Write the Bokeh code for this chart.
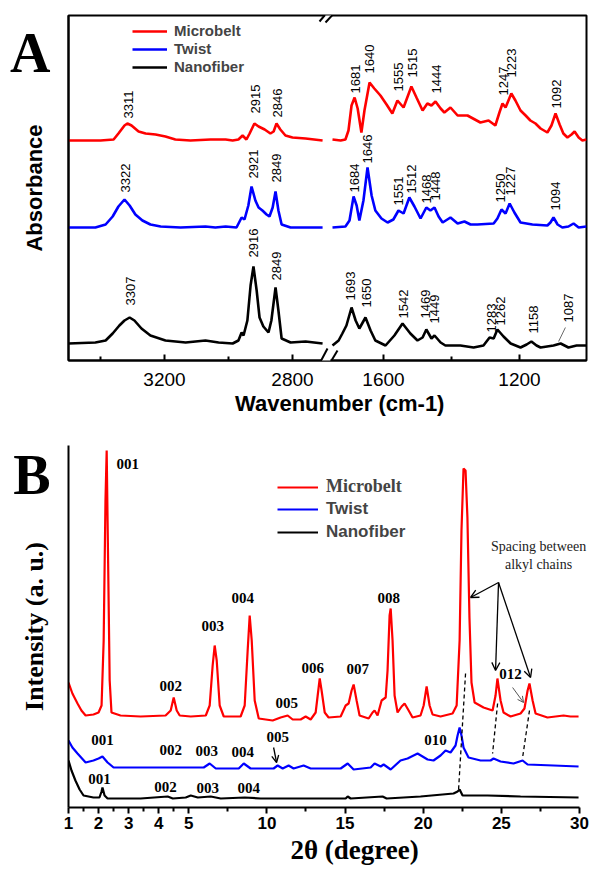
import math
from bokeh.plotting import figure
from bokeh.models import (FixedTicker, Legend, LegendItem, Label, Arrow, OpenHead,
                          BoxAnnotation)
from bokeh.layouts import column
from bokeh.embed import file_html
from bokeh.resources import INLINE
from bokeh.core.properties import value

# ---------------- Panel A: FTIR (wavenumber, absorbance offset) ----------------
red_hi_w = [3500, 3400, 3359, 3344, 3325, 3316, 3303, 3281, 3259, 3228, 3197, 3166, 3119, 3056, 3009,
            2987, 2969, 2956, 2944, 2934, 2919, 2906, 2887, 2869, 2859, 2850, 2838, 2822, 2800, 2759, 2706]
red_hi_a = [2.20, 2.20, 2.21, 2.27, 2.35, 2.37, 2.35, 2.29, 2.27, 2.26, 2.24, 2.21, 2.20, 2.21, 2.21,
            2.20, 2.21, 2.25, 2.21, 2.27, 2.37, 2.34, 2.31, 2.27, 2.29, 2.37, 2.31, 2.25, 2.23, 2.22, 2.20]
red_lo_w = [1750, 1726, 1712, 1703, 1694, 1685, 1676, 1665, 1656, 1641, 1627, 1609, 1591, 1574, 1559,
            1541, 1518, 1503, 1485, 1471, 1459, 1447, 1432, 1421, 1403, 1382, 1353, 1315, 1291, 1271,
            1259, 1250, 1241, 1224, 1212, 1197, 1182, 1168, 1153, 1138, 1118, 1106, 1094, 1082, 1071,
            1059, 1047, 1038, 1026, 1015, 1003]
red_lo_a = [2.21, 2.20, 2.21, 2.30, 2.55, 2.63, 2.52, 2.28, 2.50, 2.78, 2.72, 2.65, 2.56, 2.47, 2.60,
            2.53, 2.74, 2.63, 2.50, 2.57, 2.55, 2.59, 2.52, 2.48, 2.53, 2.45, 2.45, 2.38, 2.40, 2.35,
            2.48, 2.57, 2.53, 2.67, 2.60, 2.50, 2.45, 2.40, 2.37, 2.32, 2.28, 2.35, 2.47, 2.36, 2.27,
            2.23, 2.26, 2.29, 2.23, 2.20, 2.21]

blue_hi_w = [3500, 3416, 3384, 3362, 3344, 3325, 3309, 3291, 3269, 3244, 3212, 3150, 3072, 3041, 3009,
             2975, 2959, 2950, 2938, 2928, 2916, 2906, 2894, 2881, 2872, 2862, 2853, 2844, 2834, 2806, 2706]
blue_hi_a = [1.33, 1.33, 1.36, 1.44, 1.54, 1.61, 1.55, 1.46, 1.40, 1.36, 1.34, 1.33, 1.34, 1.33, 1.34,
             1.33, 1.43, 1.41, 1.55, 1.74, 1.60, 1.53, 1.50, 1.46, 1.44, 1.53, 1.69, 1.50, 1.36, 1.33, 1.33]
blue_lo_w = [1750, 1712, 1700, 1688, 1679, 1671, 1659, 1647, 1635, 1624, 1606, 1588, 1571, 1556, 1541,
             1524, 1509, 1491, 1474, 1462, 1450, 1438, 1426, 1403, 1382, 1362, 1344, 1324, 1276, 1265,
             1253, 1241, 1229, 1215, 1197, 1162, 1118, 1109, 1100, 1088, 1074, 1056, 1041, 1026, 1003]
blue_lo_a = [1.33, 1.34, 1.40, 1.64, 1.55, 1.40, 1.60, 1.93, 1.65, 1.50, 1.42, 1.38, 1.41, 1.50, 1.47,
             1.63, 1.54, 1.42, 1.53, 1.50, 1.53, 1.44, 1.38, 1.43, 1.37, 1.39, 1.36, 1.36, 1.37, 1.42,
             1.51, 1.47, 1.57, 1.48, 1.38, 1.36, 1.35, 1.38, 1.43, 1.36, 1.33, 1.34, 1.37, 1.33, 1.34]

black_hi_w = [3500, 3416, 3384, 3362, 3341, 3325, 3309, 3294, 3272, 3244, 3197, 3134, 3072, 3031, 2987,
              2969, 2959, 2953, 2941, 2931, 2922, 2912, 2903, 2891, 2875, 2866, 2853, 2844, 2834, 2806,
              2759, 2706]
black_hi_a = [0.17, 0.18, 0.20, 0.27, 0.35, 0.40, 0.43, 0.40, 0.32, 0.25, 0.20, 0.18, 0.20, 0.18, 0.17,
              0.20, 0.28, 0.25, 0.40, 0.75, 0.94, 0.70, 0.43, 0.34, 0.28, 0.40, 0.73, 0.50, 0.22, 0.18,
              0.19, 0.17]
black_lo_w = [1750, 1732, 1721, 1709, 1694, 1682, 1671, 1653, 1638, 1624, 1594, 1568, 1544, 1521, 1500,
              1485, 1474, 1459, 1450, 1432, 1418, 1374, 1335, 1306, 1288, 1276, 1265, 1247, 1226, 1197,
              1179, 1165, 1150, 1138, 1100, 1079, 1056, 1032, 1003]
black_lo_a = [0.15, 0.20, 0.27, 0.35, 0.53, 0.40, 0.32, 0.43, 0.30, 0.20, 0.15, 0.25, 0.37, 0.27, 0.20,
              0.23, 0.31, 0.22, 0.25, 0.18, 0.15, 0.15, 0.13, 0.15, 0.23, 0.22, 0.31, 0.24, 0.17, 0.13,
              0.16, 0.19, 0.15, 0.13, 0.15, 0.17, 0.13, 0.15, 0.15]

red_pk_txt = ["3311", "2915", "2846", "1681", "1640", "1555", "1515", "1444", "1247", "1223", "1092"]
red_pk_w = [3311, 2915, 2846, 1681, 1640, 1555, 1515, 1444, 1247, 1223, 1092]
red_pk_a = [2.42, 2.47, 2.43, 2.67, 2.87, 2.69, 2.83, 2.67, 2.65, 2.83, 2.52]
blue_pk_txt = ["3322", "2921", "2849", "1684", "1646", "1551", "1512", "1468", "1448", "1250", "1227", "1094"]
blue_pk_w = [3322, 2921, 2849, 1684, 1646, 1556, 1518, 1474, 1448, 1256, 1227, 1094]
blue_pk_a = [1.68, 1.82, 1.78, 1.68, 1.97, 1.55, 1.67, 1.57, 1.60, 1.58, 1.65, 1.50]
black_pk_txt = ["3307", "2916", "2849", "1693", "1650", "1542", "1469", "1449", "1283", "1262", "1158", "1087"]
black_pk_w = [3307, 2922, 2849, 1698, 1650, 1542, 1476, 1449, 1283, 1256, 1158, 1056]
black_pk_a = [0.55, 1.03, 0.80, 0.60, 0.53, 0.42, 0.42, 0.37, 0.28, 0.35, 0.27, 0.38]

a_major = [3200, 2800, 1600, 1200]
a_minor = [3400, 3000, 1400]

# ---------------- Panel B: XRD (2theta, intensity a.u.) ----------------
xrd_red_t = [1.00, 1.13, 1.30, 1.43, 1.57, 1.83, 2.00, 2.10, 2.17, 2.23,
             2.27, 2.30, 2.37, 2.43, 2.73, 3.40, 4.23, 4.40, 4.50, 4.60,
             4.70, 5.13, 6.09, 6.34, 6.53, 6.66, 6.79, 6.98, 7.24, 8.32,
             8.58, 8.77, 8.90, 9.03, 9.22, 9.48, 10.37, 10.88, 11.33, 11.65,
             12.16, 12.48, 12.80, 13.12, 13.25, 13.38, 13.50, 13.70, 13.95, 14.72,
             15.04, 15.23, 15.42, 15.55, 15.74, 15.93, 16.51, 16.76, 16.89, 17.08,
             17.34, 17.60, 17.72, 17.85, 17.92, 18.04, 18.17, 18.36, 18.62, 18.81,
             19.07, 19.32, 19.83, 20.03, 20.22, 20.41, 20.60, 21.11, 21.88, 22.14,
             22.33, 22.45, 22.58, 22.71, 22.83, 22.96, 23.09, 23.29, 23.86, 24.44,
             24.63, 24.75, 24.95, 25.14, 25.59, 26.23, 26.48, 26.68, 26.80, 27.00,
             27.19, 27.95, 28.47, 28.98, 29.42, 29.94]
xrd_red_i = [125, 114, 104, 97, 92, 93, 95, 102, 167, 307,
             357, 287, 127, 95, 92, 91, 92, 97, 110, 97,
             92, 91, 92, 102, 142, 162, 147, 102, 91, 91,
             102, 157, 192, 167, 107, 89, 87, 90, 92, 88,
             88, 91, 88, 95, 112, 129, 117, 95, 90, 91,
             102, 104, 117, 123, 107, 92, 89, 95, 97, 92,
             107, 110, 137, 192, 199, 167, 112, 95, 101, 104,
             97, 90, 92, 102, 121, 102, 93, 91, 94, 102,
             167, 277, 339, 337, 290, 190, 125, 105, 100, 97,
             112, 129, 107, 95, 91, 94, 99, 117, 124, 107,
             94, 90, 91, 92, 91, 91]
xrd_blue_t = [1.00, 1.13, 1.30, 1.57, 1.83, 2.00, 2.13, 2.30, 2.50, 3.40,
              4.23, 5.13, 5.96, 6.34, 6.73, 8.20, 8.52, 8.96, 10.43, 10.69,
              11.01, 11.39, 11.71, 12.35, 12.80, 14.72, 15.17, 15.55, 16.64, 16.89,
              17.28, 17.47, 17.92, 18.55, 19.00, 19.64, 20.28, 20.66, 21.11, 21.43,
              21.75, 22.07, 22.20, 22.33, 22.45, 22.58, 22.90, 23.67, 24.31, 24.50,
              24.95, 25.78, 26.36, 26.68, 28.34, 29.94]
xrd_blue_i = [67, 60, 54, 45, 47, 49, 51, 45, 40, 40,
              40, 40, 40, 44, 39, 39, 44, 39, 39, 42,
              39, 42, 39, 42, 39, 39, 44, 38, 40, 44,
              41, 43, 38, 47, 49, 54, 48, 47, 52, 57,
              55, 62, 72, 80, 72, 60, 50, 47, 47, 49,
              46, 44, 47, 43, 42, 41]
xrd_black_t = [1.00, 1.10, 1.23, 1.37, 1.50, 1.83, 2.03, 2.10, 2.13, 2.20,
               2.30, 3.40, 4.30, 4.47, 4.90, 5.13, 5.58, 6.41, 7.05, 8.58,
               9.60, 12.16, 15.04, 15.17, 15.36, 17.40, 17.66, 19.83, 21.94, 22.20,
               22.33, 22.52, 24.12, 26.23, 29.94]
xrd_black_i = [47, 37, 27, 18, 12, 10, 10, 16, 20, 12,
               9, 9, 11, 9, 10, 12, 10, 11, 9, 10,
               9, 9, 9, 11, 9, 11, 9, 11, 14, 16,
               18, 12, 12, 11, 10]

xrd_red_lbl = ["001", "002", "003", "004", "005", "006", "007", "008", "012"]
xrd_red_lbl_t = [2.97, 4.40, 6.53, 8.45, 11.27, 12.93, 15.81, 17.79, 25.59]
xrd_red_lbl_i = [344, 122, 182, 210, 105, 140, 139, 210, 134]
xrd_blue_lbl = ["001", "002", "003", "004", "005", "010"]
xrd_blue_lbl_t = [2.13, 4.40, 6.15, 8.45, 10.69, 20.79]
xrd_blue_lbl_i = [68, 58, 57, 56, 71, 68]
xrd_black_lbl = ["001", "002", "003", "004"]
xrd_black_lbl_t = [2.03, 4.23, 6.21, 8.84]
xrd_black_lbl_i = [29, 21, 20, 20]

b_major = [1, 2, 3, 4, 5, 10, 15, 20, 25, 30]
b_minor = [1.5, 2.5, 3.5, 4.5, 7.5, 12.5, 17.5, 22.5, 27.5]

RED, BLUE, BLACK = "#ff0000", "#0000ff", "#000000"
SANS = "Liberation Sans"
SERIF = "Liberation Serif"
NB = "\u00a0"


def xa(w):
    """broken wavenumber axis: 3500-2700 then 1750-1000"""
    v = (3500 - w) * 0.32 if w >= 2200 else 264 + (1750 - w) * 0.34
    return round(v, 6)


def tb(t):
    """two-scale 2-theta axis: 1-5 expanded, 5-30 compressed"""
    v = t if t <= 5 else 5 + (t - 5) * 0.52
    return round(v, 6)


# ============================ Figure A ============================
pA = figure(frame_width=518, frame_height=345, x_range=(0, 518), y_range=(0, 3.45),
            output_backend="svg", toolbar_location=None,
            min_border_left=68, min_border_right=8, min_border_top=15, min_border_bottom=62)
pA.xgrid.visible = False
pA.ygrid.visible = False
pA.outline_line_color = "black"
pA.outline_line_width = 2
pA.outline_line_alpha = 1

pA.xaxis.ticker = FixedTicker(ticks=[xa(v) for v in a_major], minor_ticks=[xa(v) for v in a_minor])
pA.xaxis.major_label_overrides = {xa(v): str(v) for v in a_major}
pA.xaxis.axis_line_width = 2
pA.xaxis.major_tick_in = 6
pA.xaxis.major_tick_out = 0
pA.xaxis.minor_tick_in = 4
pA.xaxis.minor_tick_out = 0
pA.xaxis.major_tick_line_width = 2
pA.xaxis.minor_tick_line_width = 2
pA.xaxis.major_label_text_font = SANS
pA.xaxis.major_label_text_font_size = "19px"
pA.xaxis.major_label_text_color = "black"
pA.xaxis.major_label_standoff = 12
pA.xaxis.axis_label = NB * 4 + "Wavenumber (cm-1)"
pA.xaxis.axis_label_text_font = SANS
pA.xaxis.axis_label_text_font_size = "22px"
pA.xaxis.axis_label_text_font_style = "bold"
pA.xaxis.axis_label_text_color = "black"
pA.xaxis.axis_label_standoff = 2

# panel letter "A" carried as the single (untick-marked) label of the y axis
A_TICK = 3.08
pA.yaxis.ticker = FixedTicker(ticks=[A_TICK])
pA.yaxis.major_label_overrides = {A_TICK: "A"}
pA.yaxis.major_tick_line_color = None
pA.yaxis.major_tick_out = 0
pA.yaxis.minor_tick_line_color = None
pA.yaxis.major_label_standoff = 18
pA.yaxis.major_label_text_font = SERIF
pA.yaxis.major_label_text_font_size = "56px"
pA.yaxis.major_label_text_font_style = "bold"
pA.yaxis.major_label_text_color = "black"
pA.yaxis.axis_line_width = 2
pA.yaxis.axis_label = "Absorbance"
pA.yaxis.axis_label_text_font = SANS
pA.yaxis.axis_label_text_font_size = "22px"
pA.yaxis.axis_label_text_font_style = "bold"
pA.yaxis.axis_label_text_color = "black"
pA.yaxis.axis_label_standoff = -40

rends = {}
for name, col, hw, ha, lw, la in [("Microbelt", RED, red_hi_w, red_hi_a, red_lo_w, red_lo_a),
                                  ("Twist", BLUE, blue_hi_w, blue_hi_a, blue_lo_w, blue_lo_a),
                                  ("Nanofiber", BLACK, black_hi_w, black_hi_a, black_lo_w, black_lo_a)]:
    pA.line([xa(w) for w in hw], ha, line_color=col, line_width=2.6)
    rends[name] = pA.line([xa(w) for w in lw], la, line_color=col, line_width=2.6)

for txt, ws, ys in [(red_pk_txt, red_pk_w, red_pk_a), (blue_pk_txt, blue_pk_w, blue_pk_a),
                    (black_pk_txt, black_pk_w, black_pk_a)]:
    pA.text(x=[xa(w) for w in ws], y=ys, text=txt, angle=math.pi / 2,
            text_align="left", text_baseline="middle", text_font=value(SANS),
            text_font_size="13px", text_color="black")

# leader for 1087
pA.add_layout(Arrow(end=None, x_start=xa(1065), y_start=0.33, x_end=xa(1085), y_end=0.19,
                    line_color="#444444", line_width=0.8))

legA = Legend(items=[LegendItem(label=k, renderers=[rends[k]]) for k in ["Microbelt", "Twist", "Nanofiber"]],
              location=(64, 285), glyph_width=35, glyph_height=16, label_height=16, label_standoff=7,
              spacing=1, padding=4, margin=0, border_line_color=None,
              background_fill_color="white", background_fill_alpha=1,
              label_text_font=SANS, label_text_font_size="15px", label_text_font_style="bold")
pA.add_layout(legA)

# axis break marks
pA.add_layout(BoxAnnotation(left=256.5, right=262.5, bottom=3.40, top=3.50, fill_color="white",
                            fill_alpha=1, line_color=None, level="overlay"))
pA.add_layout(BoxAnnotation(left=253.5, right=262.0, bottom=-0.04, top=0.04, fill_color="white",
                            fill_alpha=1, line_color=None, level="overlay"))
for xs, ys, xe, ye in [(251, 3.39, 262, 3.52), (257, 3.38, 269, 3.51),
                       (250, -0.05, 259, 0.12), (260, -0.05, 269, 0.10)]:
    pA.add_layout(Arrow(end=None, x_start=xs, y_start=ys, x_end=xe, y_end=ye,
                        line_color="black", line_width=2, level="overlay"))

# ============================ Figure B ============================
B_XMAX = tb(30) + 0.466
pB = figure(frame_width=525, frame_height=362, x_range=(1, B_XMAX), y_range=(0, 362),
            output_backend="svg", toolbar_location=None,
            min_border_left=68, min_border_right=2, min_border_top=23, min_border_bottom=60)
pB.xgrid.visible = False
pB.ygrid.visible = False
pB.outline_line_color = None

pB.xaxis.bounds = (1, tb(30))
pB.xaxis.ticker = FixedTicker(ticks=[tb(v) for v in b_major], minor_ticks=[tb(v) for v in b_minor])
pB.xaxis.major_label_overrides = {tb(v): str(v) for v in b_major}
pB.xaxis.axis_line_width = 2
pB.xaxis.major_tick_in = 0
pB.xaxis.major_tick_out = 6
pB.xaxis.minor_tick_in = 0
pB.xaxis.minor_tick_out = 4
pB.xaxis.major_tick_line_width = 2
pB.xaxis.minor_tick_line_width = 2
pB.xaxis.major_label_text_font = SANS
pB.xaxis.major_label_text_font_size = "17px"
pB.xaxis.major_label_text_font_style = "bold"
pB.xaxis.major_label_text_color = "black"
pB.xaxis.major_label_standoff = 3
pB.xaxis.axis_label = NB * 7 + "2θ (degree)"
pB.xaxis.axis_label_text_font = SERIF
pB.xaxis.axis_label_text_font_size = "27px"
pB.xaxis.axis_label_text_font_style = "bold"
pB.xaxis.axis_label_text_color = "black"
pB.xaxis.axis_label_standoff = 3

B_TICK = 333
pB.yaxis.ticker = FixedTicker(ticks=[B_TICK])
pB.yaxis.major_label_overrides = {B_TICK: "B"}
pB.yaxis.major_tick_line_color = None
pB.yaxis.major_tick_out = 0
pB.yaxis.minor_tick_line_color = None
pB.yaxis.major_label_standoff = 18
pB.yaxis.major_label_text_font = SERIF
pB.yaxis.major_label_text_font_size = "56px"
pB.yaxis.major_label_text_font_style = "bold"
pB.yaxis.major_label_text_color = "black"
pB.yaxis.axis_line_width = 2
pB.yaxis.axis_label = "Intensity (a. u.)"
pB.yaxis.axis_label_text_font = SERIF
pB.yaxis.axis_label_text_font_size = "26px"
pB.yaxis.axis_label_text_font_style = "bold"
pB.yaxis.axis_label_text_color = "black"
pB.yaxis.axis_label_standoff = -39

rB = {}
for name, col, ts, ii in [("Microbelt", RED, xrd_red_t, xrd_red_i),
                          ("Twist", BLUE, xrd_blue_t, xrd_blue_i),
                          ("Nanofiber", BLACK, xrd_black_t, xrd_black_i)]:
    rB[name] = pB.line([tb(t) for t in ts], ii, line_color=col, line_width=2.2)

for txt, ts, ii in [(xrd_red_lbl, xrd_red_lbl_t, xrd_red_lbl_i),
                    (xrd_blue_lbl, xrd_blue_lbl_t, xrd_blue_lbl_i),
                    (xrd_black_lbl, xrd_black_lbl_t, xrd_black_lbl_i)]:
    pB.text(x=[tb(t) for t in ts], y=ii, text=txt, text_align="center", text_baseline="middle",
            text_font=value(SERIF), text_font_size="15px", text_font_style="bold", text_color="black")

# dashed correlation lines
for ts, i0, te, i1 in [(22.71, 134, 22.26, 17), (24.76, 104, 24.44, 54), (26.80, 97, 26.36, 50)]:
    pB.add_layout(Arrow(end=None, x_start=tb(ts), y_start=i0, x_end=tb(te), y_end=i1,
                        line_color="black", line_width=1.3, line_dash="4 3"))
# annotation arrows
for te, ie in [(23.03, 210), (24.63, 137), (26.87, 130)]:
    pB.add_layout(Arrow(end=OpenHead(size=8, line_width=1.3, line_color="black"),
                        x_start=tb(24.82), y_start=225, x_end=tb(te), y_end=ie,
                        line_color="black", line_width=1.3))
pB.add_layout(Arrow(end=OpenHead(size=6, line_width=1, line_color="#555555"),
                    x_start=tb(25.72), y_start=120, x_end=tb(26.42), y_end=105,
                    line_color="#555555", line_width=1))
pB.add_layout(Arrow(end=OpenHead(size=7, line_width=1.3, line_color="black"),
                    x_start=tb(10.43), y_start=60, x_end=tb(10.62), y_end=45,
                    line_color="black", line_width=1.3))

pB.add_layout(Label(x=tb(27.38), y=261, text="Spacing between", text_font=SERIF, text_font_size="14px",
                    text_align="center", text_baseline="middle", text_color="#222222"))
pB.add_layout(Label(x=tb(27.38), y=243, text="alkyl chains", text_font=SERIF, text_font_size="14px",
                    text_align="center", text_baseline="middle", text_color="#222222"))

legB1 = Legend(items=[LegendItem(label="Microbelt", renderers=[rB["Microbelt"]])],
               location=(209, 310), glyph_width=41, glyph_height=20, label_height=20, label_standoff=8,
               spacing=3, padding=0, margin=0, border_line_color=None, background_fill_alpha=0,
               label_text_font=SERIF, label_text_font_size="18px", label_text_font_style="bold")
legB2 = Legend(items=[LegendItem(label=k, renderers=[rB[k]]) for k in ["Twist", "Nanofiber"]],
               location=(209, 265), glyph_width=41, glyph_height=20, label_height=20, label_standoff=8,
               spacing=3, padding=0, margin=0, border_line_color=None, background_fill_alpha=0,
               label_text_font=SANS, label_text_font_size="17px", label_text_font_style="bold")
pB.add_layout(legB1)
pB.add_layout(legB2)

layout = column(pA, pB)
open("out.html", "w").write(file_html(layout, INLINE))
